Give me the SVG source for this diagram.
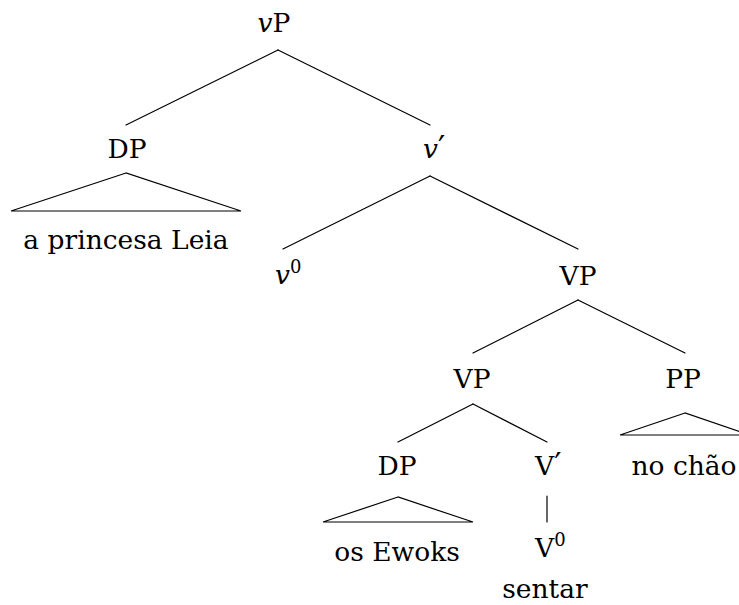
<svg xmlns="http://www.w3.org/2000/svg" width="739" height="605" viewBox="0 0 739 605">
  <style>
    text { font-family: "DejaVu Serif", "Liberation Serif", "Noto Serif", serif; font-size: 26.5px; fill: #000; text-anchor: middle; }
    .st { text-anchor: start; }
    .it { font-style: italic; }
    .sup { font-size: 18px; }
    .pr { font-size: 32px; }
    .edge { stroke: #000; stroke-width: 1.2; fill: none; stroke-linecap: round; }
  </style>
  <rect width="739" height="605" fill="#fff"/>

  <g id="edges">
    <line class="edge" x1="278" y1="50" x2="126" y2="125"/>
    <line class="edge" x1="278" y1="50" x2="430" y2="125"/>
    <polygon class="edge" points="126,173 11,211 241,211"/>
    <line class="edge" x1="430" y1="176" x2="283" y2="249"/>
    <line class="edge" x1="430" y1="176" x2="578" y2="249"/>
    <line class="edge" x1="578" y1="300" x2="473" y2="353"/>
    <line class="edge" x1="578" y1="300" x2="685" y2="353"/>
    <polygon class="edge" points="685,413 620,435 750,435"/>
    <line class="edge" x1="473" y1="404" x2="398" y2="442"/>
    <line class="edge" x1="473" y1="404" x2="547" y2="442"/>
    <polygon class="edge" points="398,497 323,522 473,522"/>
    <line class="edge" x1="547" y1="496" x2="547" y2="522"/>
  </g>

  <g id="vP"><text x="274" y="32"><tspan class="it">v</tspan>P</text></g>
  <g id="DP1"><text x="127" y="158">DP</text></g>
  <g id="DP1-yield"><text x="126" y="249">a princesa Leia</text></g>
  <g id="vbar"><text class="st" x="423" y="158"><tspan class="it">v</tspan><tspan class="pr">′</tspan></text></g>
  <g id="v0"><text class="st" x="275" y="284"><tspan class="it">v</tspan><tspan class="sup" dy="-11">0</tspan></text></g>
  <g id="VP1"><text x="578" y="285">VP</text></g>
  <g id="VP2"><text x="472" y="388">VP</text></g>
  <g id="PP"><text x="683" y="388">PP</text></g>
  <g id="PP-yield"><text x="684" y="475">no chão</text></g>
  <g id="DP2"><text x="397" y="475">DP</text></g>
  <g id="Vbar"><text class="st" x="535" y="475">V<tspan class="pr">′</tspan></text></g>
  <g id="DP2-yield"><text x="397" y="561">os Ewoks</text></g>
  <g id="V0"><text class="st" x="535" y="557">V<tspan class="sup" dy="-11">0</tspan></text></g>
  <g id="sentar"><text x="545" y="598">sentar</text></g>
</svg>
